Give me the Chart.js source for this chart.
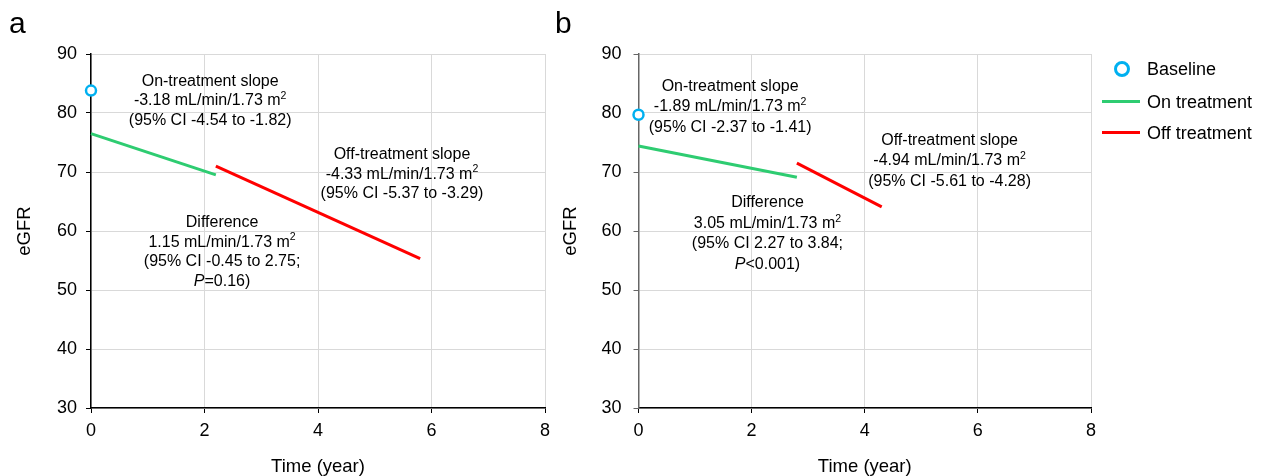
<!DOCTYPE html>
<html>
<head>
<meta charset="utf-8">
<script src="https://cdn.jsdelivr.net/npm/chart.js@4.4.1/dist/chart.umd.min.js"></script>
<style>
body { margin: 0; background: #fff; font-family: "Liberation Sans", Arial, sans-serif; }
#wrap { position: relative; width: 1266px; height: 476px; overflow: hidden; }
canvas { position: absolute; top: 0; }
#ca { left: 0; }
#cb { left: 548px; }
.panel { position: absolute; font-size: 30px; line-height: 30px; top: 8px; }
.leg { position: absolute; left: 1147px; font-size: 18px; line-height: 20px; white-space: nowrap; }
.mark { position: absolute; }
</style>
</head>
<body>
<div id="wrap">
  <canvas id="ca" width="560" height="476"></canvas>
  <canvas id="cb" width="560" height="476"></canvas>
  <div class="panel" style="left:9px">a</div>
  <div class="panel" style="left:555px">b</div>

  <div class="mark" style="left:1114px;top:61px;width:10px;height:10px;border:3px solid #00b0f0;border-radius:50%"></div>
  <div class="leg" style="top:59px">Baseline</div>
  <div class="mark" style="left:1102px;top:100px;width:38px;height:3px;background:#2ecc71"></div>
  <div class="leg" style="top:92px">On treatment</div>
  <div class="mark" style="left:1102px;top:131px;width:38px;height:3px;background:#ff0000"></div>
  <div class="leg" style="top:123px">Off treatment</div>
</div>
<script>
// axes
var xTicks = [0, 2, 4, 6, 8];
var yTicks = [30, 40, 50, 60, 70, 80, 90];

// panel a
var baseA = [[0, 83.8]];
var onA = [[0, 76.5], [2.2, 69.5]];
var offA = [[2.2, 71.0], [5.8, 55.3]];

// panel b
var baseB = [[0, 79.7]];
var onB = [[0, 74.4], [2.8, 69.1]];
var offB = [[2.8, 71.5], [4.3, 64.1]];

// annotation text (^2 = superscript, *P* = italic)
var onTextA = ["On-treatment slope", "-3.18 mL/min/1.73 m^2", "(95% CI -4.54 to -1.82)"];
var offTextA = ["Off-treatment slope", "-4.33 mL/min/1.73 m^2", "(95% CI -5.37 to -3.29)"];
var diffTextA = ["Difference", "1.15 mL/min/1.73 m^2", "(95% CI -0.45 to 2.75;", "*P*=0.16)"];
var onTextB = ["On-treatment slope", "-1.89 mL/min/1.73 m^2", "(95% CI -2.37 to -1.41)"];
var offTextB = ["Off-treatment slope", "-4.94 mL/min/1.73 m^2", "(95% CI -5.61 to -4.28)"];
var diffTextB = ["Difference", "3.05 mL/min/1.73 m^2", "(95% CI 2.27 to 3.84;", "*P*<0.001)"];

var FONT = '"Liberation Sans", Arial, sans-serif';
Chart.defaults.font.family = FONT;
Chart.defaults.color = "#000";

function pts(arr) {
    return arr.map(function (p) { return {x: p[0], y: p[1]}; });
}

function drawRich(ctx, line, cx, cy, size) {
    var parts = line.split(/(\*[^*]+\*|\^\d)/).filter(function (s) { return s.length; });
    var runs = parts.map(function (s) {
        if (s[0] == "^") return {t: s.slice(1), font: (size * 0.66) + "px " + FONT, dy: -size * 0.3};
        if (s[0] == "*") return {t: s.slice(1, -1), font: "italic " + size + "px " + FONT, dy: 0};
        return {t: s, font: size + "px " + FONT, dy: 0};
    });
    var total = 0;
    runs.forEach(function (r) { ctx.font = r.font; r.w = ctx.measureText(r.t).width; total += r.w; });
    var x = cx - total / 2;
    ctx.textAlign = "left";
    ctx.textBaseline = "middle";
    runs.forEach(function (r) { ctx.font = r.font; ctx.fillText(r.t, x, cy + r.dy); x += r.w; });
}

var notesPlugin = {
    id: "notes",
    afterDatasetsDraw: function (chart, args, opts) {
        var ctx = chart.ctx, xs = chart.scales.x, ys = chart.scales.y;
        ctx.save();
        ctx.fillStyle = "#000";
        opts.items.forEach(function (it) {
            var px = xs.getPixelForValue(it.at[0]);
            var py = ys.getPixelForValue(it.at[1]);
            it.lines.forEach(function (l) { drawRich(ctx, l, px, py, 16); py += opts.gap; });
        });
        ctx.restore();
    }
};

function makeChart(id, base, on, off, notes, o) {
    return new Chart(document.getElementById(id), {
        type: "scatter",
        data: {
            datasets: [
                {label: "Baseline", data: pts(base), pointRadius: 5, pointBorderWidth: 2.5,
                    pointBorderColor: "#00b0f0", pointBackgroundColor: "#fff", clip: false},
                {label: "On treatment", data: pts(on), showLine: true, borderColor: "#2ecc71",
                    borderWidth: 3, pointRadius: 0, clip: false},
                {label: "Off treatment", data: pts(off), showLine: true, borderColor: "#ff0000",
                    borderWidth: 3, pointRadius: 0, clip: false}
            ]
        },
        options: {
            responsive: false,
            animation: false,
            layout: {padding: {left: 0, right: o.padRight, top: 54, bottom: 0}},
            plugins: {
                legend: {display: false},
                tooltip: {enabled: false},
                notes: {items: notes, gap: o.gap}
            },
            scales: {
                x: {
                    type: "linear",
                    min: xTicks[0], max: xTicks[xTicks.length - 1],
                    afterBuildTicks: function (s) { s.ticks = xTicks.map(function (v) { return {value: v}; }); },
                    afterFit: function (s) { s.height = 68; },
                    grid: {color: "#d9d9d9", tickColor: "#000", tickLength: 5},
                    border: {color: "#000", width: 1.5},
                    ticks: {padding: 7, font: {size: 18}, color: "#000"},
                    title: {display: true, text: "Time (year)", font: {size: 18.5, lineHeight: 1}, color: "#000", padding: {top: 0, bottom: 0}}
                },
                y: {
                    min: yTicks[0], max: yTicks[yTicks.length - 1],
                    afterBuildTicks: function (s) { s.ticks = yTicks.map(function (v) { return {value: v}; }); },
                    afterFit: function (s) { s.width = o.yWidth; },
                    grid: {color: "#d9d9d9", tickColor: o.axisColor, tickLength: 5},
                    border: {color: o.axisColor, width: 1.5},
                    ticks: {padding: o.tickPad, font: {size: 18}, color: "#000"},
                    title: {display: true, text: "eGFR", font: {size: 18.5, lineHeight: 1}, color: "#000", padding: {top: o.titlePad, bottom: 0}}
                }
            }
        },
        plugins: [notesPlugin]
    });
}

makeChart("ca", baseA, onA, offA, [
    {at: [2.10, 85.4], lines: onTextA},
    {at: [5.48, 72.9], lines: offTextA},
    {at: [2.31, 61.4], lines: diffTextA}
], {padRight: 15, yWidth: 91, tickPad: 9, titlePad: 16, axisColor: "#000", gap: 19.5});

makeChart("cb", baseB, onB, offB, [
    {at: [1.62, 84.5], lines: onTextB},
    {at: [5.50, 75.4], lines: offTextB},
    {at: [2.28, 64.75], lines: diffTextB}
], {padRight: 17, yWidth: 90.5, tickPad: 12, titlePad: 14, axisColor: "#666", gap: 20.5});
</script>
</body>
</html>
